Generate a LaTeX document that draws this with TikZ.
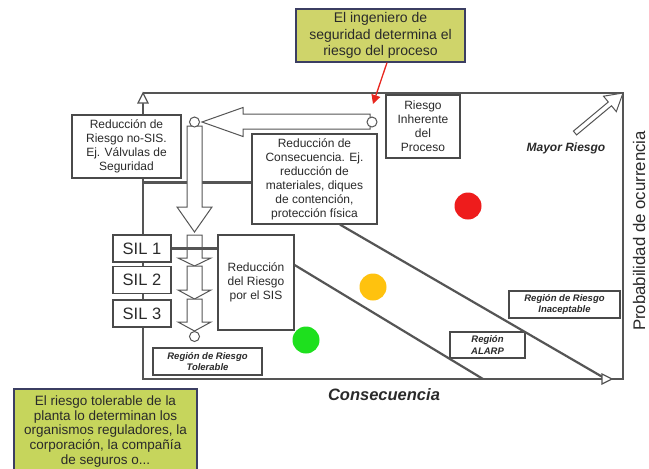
\documentclass[tikz,border=0pt]{standalone}
\usepackage{fontspec}
\setmainfont{Liberation Sans}
\usetikzlibrary{arrows.meta}

\definecolor{linegray}{HTML}{555555}
\definecolor{boxline}{HTML}{4A4A4A}
\definecolor{txt}{HTML}{2A2A2A}
\definecolor{noteA}{RGB}{207,212,106}
\definecolor{noteB}{RGB}{198,213,92}
\definecolor{noteline}{HTML}{3B3E62}
\definecolor{riskred}{HTML}{EE1C1C}
\definecolor{riskamber}{HTML}{FFC20E}
\definecolor{riskgreen}{HTML}{1EE01E}
\definecolor{alarm}{HTML}{E8261E}

\tikzset{
  box/.style={draw=boxline, line width=1.2pt, fill=white, text=txt, align=center,
              inner sep=0pt, font=\fontsize{12}{14}\selectfont},
  silbox/.style={box, font=\fontsize{16.5}{18}\selectfont,
                 minimum width=58pt, minimum height=27pt},
  region/.style={box, font=\fontsize{9.5}{11.5}\selectfont\bfseries\itshape},
  note/.style={draw=noteline, line width=1.2pt, align=center, text=txt, inner sep=0pt},
  hollow/.style={draw=linegray, line width=1pt, fill=white, line join=miter},
  frameline/.style={draw=linegray, line width=1.2pt},
  bar/.style={draw=linegray, line width=3pt},
  diag/.style={draw=linegray, line width=2.2pt},
  riskdot/.style={circle, inner sep=0pt, minimum size=27pt},
  knob/.style={circle, draw=linegray, line width=1pt, fill=white,
               inner sep=0pt, minimum size=10pt},
}

\begin{document}
\begin{tikzpicture}[x=1pt, y=-1pt]
  \clip (0,0) rectangle (649,469);
  \fill[white] (0,0) rectangle (649,469);

  % chart frame: probability axis (left) and consequence axis (bottom)
  \draw[frameline] (143,103) -- (143,379) -- (623,379) -- (623,93) -- (143,93);
  \draw[frameline, fill=white] (143,93) -- (138,103) -- (148,103) -- cycle;

  % boxes
  \node[box, minimum width=109pt, minimum height=63pt] (nonsis) at (126.5,146.5)
    {Reducción de\\Riesgo no-SIS.\\Ej. Válvulas de\\Seguridad};
  \node[box, minimum width=125pt, minimum height=90pt] (conseq) at (314.5,179)
    {Reducción de\\Consecuencia. Ej.\\reducción de\\materiales, diques\\de contención,\\protección física};
  \node[box, minimum width=74pt, minimum height=63pt] (inherent) at (423,126.5)
    {Riesgo\\Inherente\\del\\Proceso};
  \node[box, minimum width=76pt, minimum height=95pt] (sis) at (256,282.5)
    {Reducción\\del Riesgo\\por el SIS};
  \node[silbox] (sil1) at (142,248.5) {SIL 1};
  \node[silbox] (sil2) at (142,280) {SIL 2};
  \node[silbox] (sil3) at (142,313.5) {SIL 3};

  \node[region, minimum width=111pt, minimum height=27pt] (inacc) at (564.5,304.5)
    {Región de Riesgo\\Inaceptable};
  \node[region, minimum width=75pt, minimum height=26pt] (alarp) at (487.5,345)
    {Región\\ALARP};
  \node[region, minimum width=109pt, minimum height=27pt] (toler) at (207.5,361.5)
    {Región de Riesgo\\Tolerable};

  % thick link from the axis to the consequence box
  \coordinate (axisA) at (143,182);
  \draw[bar] (axisA) -- (axisA -| conseq.west);

  % hollow flow arrows
  \draw[hollow] (370,114) -- (243,114) -- (243,107.5) -- (202,122) -- (243,136.5)
                -- (243,129) -- (370,129) -- cycle;
  \draw[hollow] (187,126) -- (187,207) -- (177,207) -- (194.5,232) -- (212,207)
                -- (202,207) -- (202,126) -- cycle;
  \foreach \t/\b/\p in {235/258/266, 266/290/299, 299/322/331}{
    \draw[hollow] (187,\t) -- (187,\b) -- (178,\b) -- (194.5,\p) -- (211,\b)
                  -- (202,\b) -- (202,\t) -- cycle;
  }
  \node[knob] (knobR) at (372,122) {};
  \node[knob] (knobL) at (194.5,122) {};
  \node[knob] (knobB) at (194.5,336.5) {};

  % SIL link to the SIS box
  \draw[bar] (sil1.east) -- (sil1.east -| sis.west);

  % risk region boundaries
  \coordinate (lowA) at (483,379);
  \coordinate (lowB) at (606,379);
  \draw[diag] ([yshift=17.5pt]sis.east) -- (lowA);
  \draw[diag] ([xshift=25.5pt]conseq.south) -- (lowB);
  \draw[frameline, fill=white] (612,379) -- (602,374) -- (602,384) -- cycle;

  % risk level markers
  \node[riskdot, fill=riskred] (hi) at (468,206) {};
  \node[riskdot, fill=riskamber] (mid) at (373,287) {};
  \node[riskdot, fill=riskgreen] (lo) at (306,340) {};

  % increasing risk direction
  \draw[hollow] (576.6,134.9) -- (611.5,105.8) -- (616.3,111.6) -- (623,93)
                -- (603.5,96.2) -- (608.3,102.0) -- (573.4,131.1) -- cycle;
  \node[font=\fontsize{12}{14}\selectfont\bfseries\itshape, text=txt] (mayor) at (566,148)
    {Mayor Riesgo};

  % axis titles
  \node[font=\fontsize{16.5}{18}\selectfont\bfseries\itshape, text=txt] (xlabel) at (384,395)
    {Consecuencia};
  \node[font=\fontsize{16.8}{19}\selectfont, text=txt, rotate=90, inner sep=0pt]
    (ylabel) at (639,231) {Probabilidad de ocurrencia};

  % notes
  \node[note, fill=noteA, minimum width=169pt, minimum height=53pt,
        font=\fontsize{14}{16.5}\selectfont] (engineer) at (380.5,35.5)
    {El ingeniero de\\seguridad determina el\\riesgo del proceso};
  \node[note, fill=noteB, minimum width=183pt, minimum height=85pt,
        font=\fontsize{13.5}{14.6}\selectfont] (tolnote) at (105.5,431.5)
    {El riesgo tolerable de la\\planta lo determinan los\\organismos reguladores, la\\corporación, la compañía\\de seguros o...};

  \coordinate (redtip) at (373,104);
  \draw[alarm, line width=1.3pt, -{Triangle[length=9pt, width=9pt]}]
    ([xshift=6.5pt]engineer.south) -- (redtip);
\end{tikzpicture}
\end{document}
